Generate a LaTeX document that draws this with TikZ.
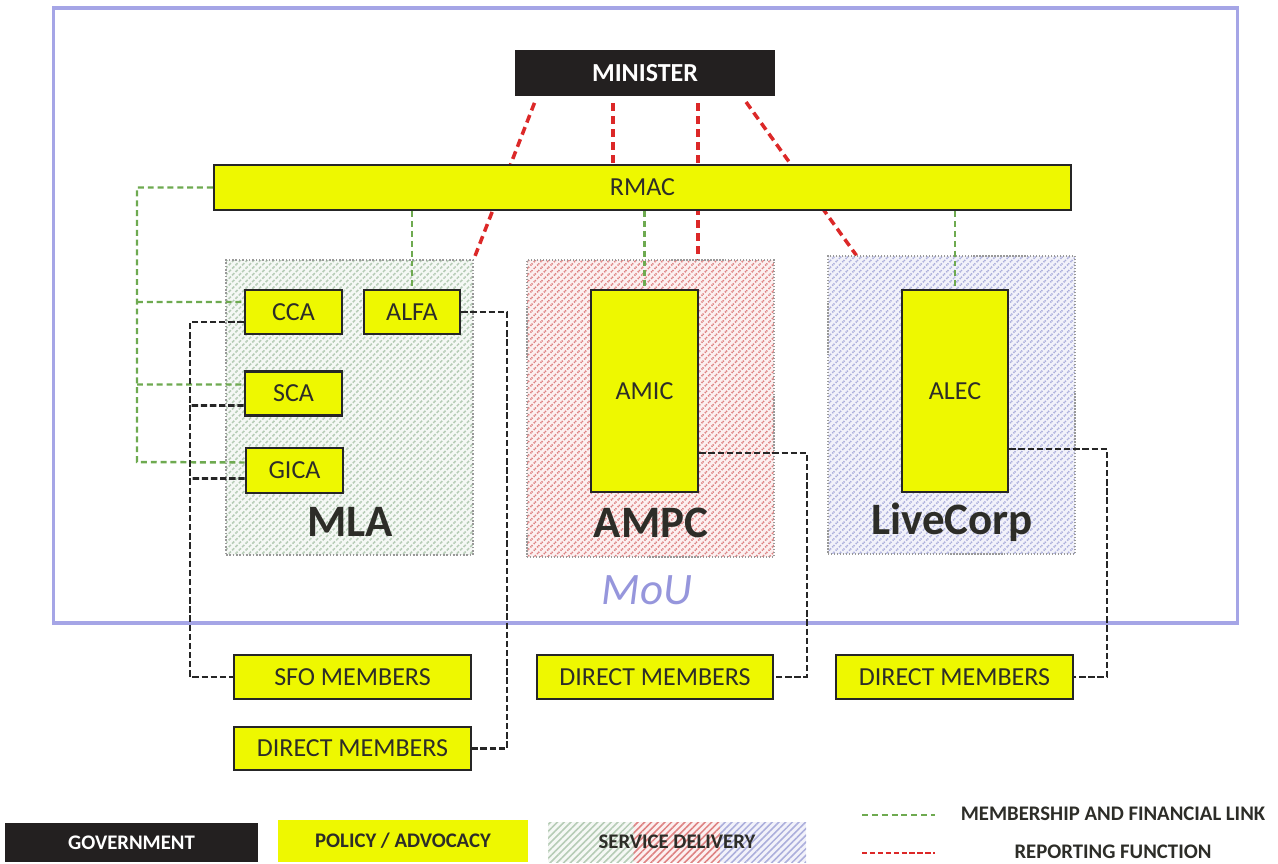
\documentclass[tikz,border=0pt]{standalone}
\usepackage{fontspec}
\setmainfont{Carlito}
\usetikzlibrary{patterns.meta,calc,backgrounds}
\definecolor{ylw}{RGB}{238,248,0}
\definecolor{govblack}{RGB}{35,32,32}
\definecolor{txt}{RGB}{45,45,40}
\definecolor{moucol}{RGB}{165,165,230}
\definecolor{mouText}{RGB}{150,150,220}
\definecolor{lgreen}{RGB}{110,170,80}
\definecolor{lred}{RGB}{220,40,40}
\definecolor{mlabg}{RGB}{245,248,245}
\definecolor{mlaln}{RGB}{182,204,182}
\definecolor{ampcbg}{RGB}{252,240,240}
\definecolor{ampcln}{RGB}{222,130,130}
\definecolor{lcbg}{RGB}{242,242,250}
\definecolor{lcln}{RGB}{172,175,220}
\begin{document}
\begin{tikzpicture}[x=0.02cm,y=-0.02cm,
  ybox/.style={draw=black!85, line width=1.5pt, fill=ylw, inner sep=0pt, text=txt, font=\fontsize{14.8}{16}\selectfont},
  svcbox/.style={draw=gray!80, densely dotted, line width=0.7pt, inner sep=0pt},
  hatchA/.style={preaction={fill=mlabg}, pattern={Lines[angle=45,distance=2.7pt,line width=0.9pt]}, pattern color=mlaln},
  hatchB/.style={preaction={fill=ampcbg}, pattern={Lines[angle=45,distance=2.7pt,line width=0.9pt]}, pattern color=ampcln},
  hatchC/.style={preaction={fill=lcbg}, pattern={Lines[angle=45,distance=2.7pt,line width=0.9pt]}, pattern color=lcln},
  biglabel/.style={text=txt, font=\bfseries\fontsize{25.6}{28}\selectfont, inner sep=0pt},
  glink/.style={draw=lgreen, line width=1.4pt, dash pattern=on 3.4pt off 2.2pt},
  klink/.style={draw=black!85, line width=1.6pt, dash pattern=on 3.6pt off 1.6pt},
  rlink/.style={draw=lred, line width=2pt, dash pattern=on 4.6pt off 2.8pt},
  legtext/.style={text=txt, font=\bfseries\fontsize{11.8}{13}\selectfont, inner sep=0pt}
]
\useasboundingbox (0,0) rectangle (1278,863);
\begin{scope}[on background layer]
\fill[white] (0,0) rectangle (1278,863);
\end{scope}

% MoU frame
\node[draw=moucol, line width=1.8pt, minimum width=23.7cm, minimum height=12.3cm, inner sep=0pt] (frame) at (645.5,315.5) {};

% top
\node[fill=govblack, minimum width=5.2cm, minimum height=0.92cm, inner sep=0pt, text=white, font=\bfseries\fontsize{14.8}{16}\selectfont] (minister) at (645,73) {MINISTER};
\node[ybox, minimum width=17.14cm, minimum height=0.9cm] (rmac) at (642.5,187.5) {RMAC};

% service delivery boxes
\node[svcbox, hatchA, minimum width=4.94cm, minimum height=5.9cm] (mla) at (349.5,407.5) {};
\node[svcbox, hatchB, minimum width=4.94cm, minimum height=5.94cm] (ampc) at (650.5,408.5) {};
\node[svcbox, hatchC, minimum width=4.94cm, minimum height=5.96cm] (livecorp) at (951.5,405) {};
\node[biglabel] (mlat) at (350,522) {MLA};
\node[biglabel] (ampct) at (651,523) {AMPC};
\node[biglabel] (lct) at (952,522) {LiveCorp};
\node[text=mouText, font=\itshape\fontsize{25.6}{28}\selectfont, inner sep=0pt] (mou) at (647,590) {MoU};

% inner policy boxes
\node[ybox, minimum width=1.94cm, minimum height=0.88cm] (cca) at (293.5,312) {CCA};
\node[ybox, minimum width=1.92cm, minimum height=0.88cm] (alfa) at (412,312) {ALFA};
\node[ybox, minimum width=1.94cm, minimum height=0.88cm] (sca) at (293.5,393.5) {SCA};
\node[ybox, minimum width=1.94cm, minimum height=0.9cm] (gica) at (294.5,470.5) {GICA};
\node[ybox, minimum width=2.14cm, minimum height=4.04cm] (amic) at (644.5,391) {AMIC};
\node[ybox, minimum width=2.12cm, minimum height=4.04cm] (alec) at (955,391) {ALEC};

% member boxes
\node[ybox, minimum width=4.74cm, minimum height=0.88cm] (sfo) at (352.5,677) {SFO MEMBERS};
\node[ybox, minimum width=4.74cm, minimum height=0.86cm] (dm1) at (352.5,748.5) {DIRECT MEMBERS};
\node[ybox, minimum width=4.72cm, minimum height=0.88cm] (dm2) at (655,677) {DIRECT MEMBERS};
\node[ybox, minimum width=4.74cm, minimum height=0.88cm] (dm3) at (954.5,677) {DIRECT MEMBERS};

% reporting lines (behind RMAC)
\begin{scope}[on background layer]
\draw[rlink, shorten <=0.14cm] ([xshift=-2.16cm]minister.south) -- (mla.north east);
\draw[rlink, shorten <=0.14cm] ([xshift=-0.64cm]minister.south) -- ([xshift=-0.64cm]minister.south |- rmac.north);
\draw[rlink, shorten <=0.14cm] ([xshift=1.06cm]minister.south) -- ([xshift=1.06cm]minister.south |- ampc.north);
\draw[rlink, shorten <=0.14cm] ([xshift=1.94cm]minister.south) -- ([xshift=0.58cm]livecorp.north west);
\end{scope}

% membership and financial links
\draw[glink] (rmac.west) -| (137,462) -- ([yshift=0.16cm]gica.west);
\draw[glink] (137,302) -- ([yshift=0.2cm]cca.west);
\draw[glink] (137,384.5) -- ([yshift=0.18cm]sca.west);
\draw[glink] (rmac.south -| alfa.north) -- (alfa.north);
\draw[glink] (rmac.south -| amic.north) -- (amic.north);
\draw[glink] (rmac.south -| alec.north) -- (alec.north);

% membership (black)
\draw[klink] ([yshift=-0.2cm]cca.west) -| (190,677) -- (sfo.west);
\draw[klink] ([yshift=-0.24cm]sca.west) -- (190,405.5);
\draw[klink] ([yshift=-0.16cm]gica.west) -- (190,478.5);
\draw[klink] (alfa.east) -- (507,312) |- (dm1.east);
\draw[klink] ([yshift=-1.24cm]amic.east) -| (807,677) -- (dm2.east);
\draw[klink] ([yshift=-1.16cm]alec.east) -| (1107,677) -- (dm3.east);

% legend
\node[fill=govblack, minimum width=5.06cm, minimum height=0.78cm, inner sep=0pt, text=white, font=\bfseries\fontsize{11.8}{13}\selectfont] (gov) at (131.5,842.5) {GOVERNMENT};
\node[fill=ylw, minimum width=5cm, minimum height=0.84cm, inner sep=0pt, legtext] (pol) at (403,841) {POLICY / ADVOCACY};
\node[hatchA, minimum width=1.72cm, minimum height=0.8cm, inner sep=0pt] (s1) at (591,842) {};
\node[hatchB, minimum width=1.74cm, minimum height=0.8cm, inner sep=0pt] (s2) at (677,842) {};
\node[hatchC, minimum width=1.72cm, minimum height=0.8cm, inner sep=0pt] (s3) at (763,842) {};
\node[legtext] (svct) at (677,842) {SERVICE DELIVERY};
\coordinate (lg1) at (862,815);
\coordinate (lg2) at (935,815);
\draw[glink] (lg1) -- (lg2);
\node[legtext] (lgt) at (1113,814) {MEMBERSHIP AND FINANCIAL LINK};
\coordinate (lr1) at (862,853);
\coordinate (lr2) at (935,853);
\draw[rlink, line width=1.6pt, dash pattern=on 3pt off 1.5pt] (lr1) -- (lr2);
\node[legtext] (lrt) at (1113,852) {REPORTING FUNCTION};
\end{tikzpicture}
\end{document}
